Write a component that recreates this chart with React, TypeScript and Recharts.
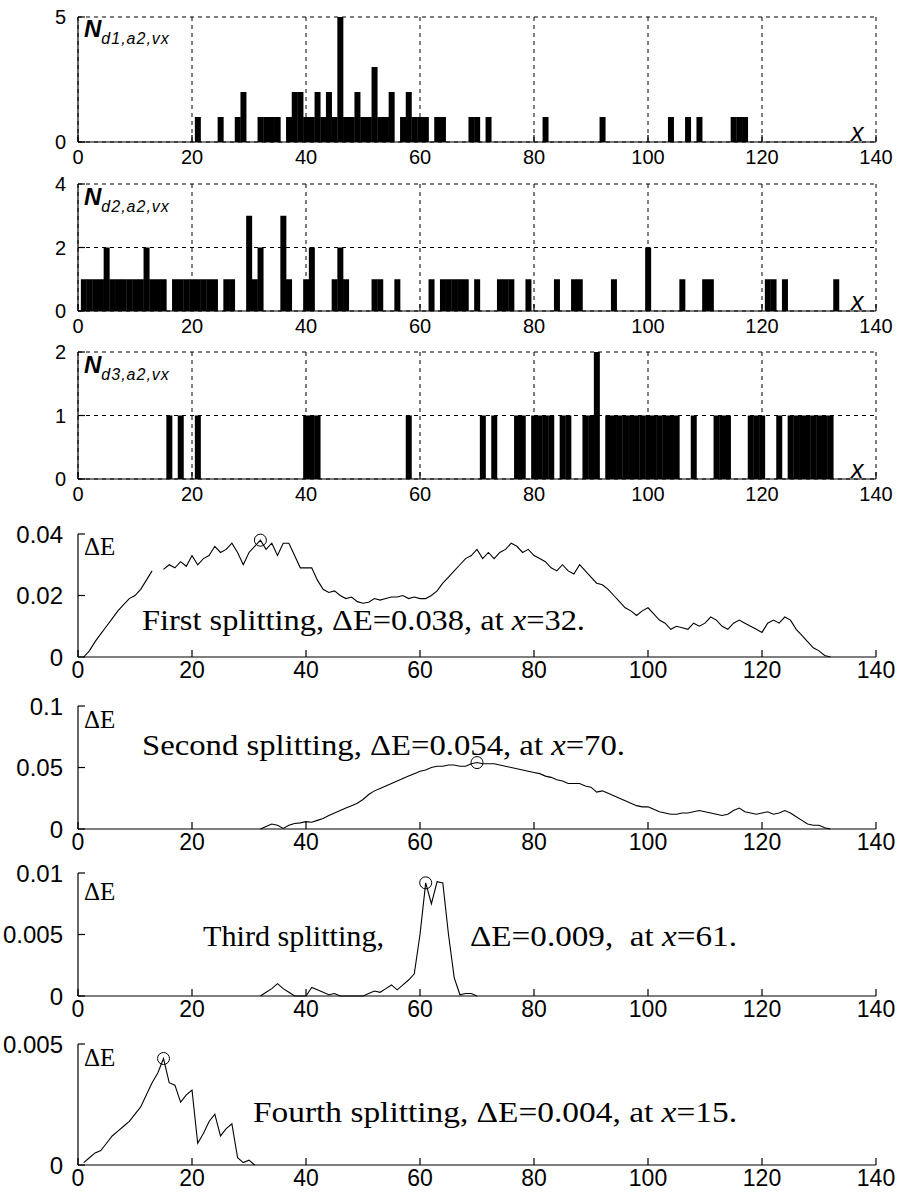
import React from 'react';
import { BarChart, Bar, LineChart, Line, XAxis, YAxis, CartesianGrid, ReferenceDot } from 'recharts';

// shared x ticks
const xTicks = [0, 20, 40, 60, 80, 100, 120, 140];

// N_d1,a2,vx histogram (bin position -> count)
const d1Bins = [21, 25, 28, 29, 32, 33, 34, 35, 37, 38, 39, 40, 41, 42, 43, 44, 45, 46, 47, 48, 49, 50, 51, 52, 53, 54, 55, 57, 58, 59, 60, 61, 63, 64, 69, 70, 72, 82, 92, 104, 107, 109, 115, 116, 117];
const d1Counts = [1, 1, 1, 2, 1, 1, 1, 1, 1, 2, 2, 1, 1, 2, 1, 2, 1, 5, 1, 1, 2, 1, 1, 3, 1, 1, 2, 1, 2, 1, 1, 1, 1, 1, 1, 1, 1, 1, 1, 1, 1, 1, 1, 1, 1];

// N_d2,a2,vx
const d2Bins = [1, 2, 3, 4, 5, 6, 7, 8, 9, 10, 11, 12, 13, 14, 15, 17, 18, 19, 20, 21, 22, 23, 24, 26, 27, 30, 31, 32, 36, 37, 40, 41, 45, 46, 47, 52, 53, 56, 62, 64, 65, 66, 67, 68, 70, 74, 75, 76, 79, 84, 87, 88, 94, 100, 106, 110, 111, 121, 122, 124, 133];
const d2Counts = [1, 1, 1, 1, 2, 1, 1, 1, 1, 1, 1, 2, 1, 1, 1, 1, 1, 1, 1, 1, 1, 1, 1, 1, 1, 3, 1, 2, 3, 1, 1, 2, 1, 2, 1, 1, 1, 1, 1, 1, 1, 1, 1, 1, 1, 1, 1, 1, 1, 1, 1, 1, 1, 2, 1, 1, 1, 1, 1, 1, 1];

// N_d3,a2,vx
const d3Bins = [16, 18, 21, 40, 41, 42, 58, 71, 73, 77, 78, 80, 81, 82, 83, 85, 86, 89, 90, 91, 93, 94, 95, 96, 97, 98, 99, 100, 101, 102, 103, 104, 105, 108, 112, 113, 114, 118, 119, 120, 123, 125, 126, 127, 128, 129, 130, 131, 132];
const d3Counts = [1, 1, 1, 1, 1, 1, 1, 1, 1, 1, 1, 1, 1, 1, 1, 1, 1, 1, 1, 2, 1, 1, 1, 1, 1, 1, 1, 1, 1, 1, 1, 1, 1, 1, 1, 1, 1, 1, 1, 1, 1, 1, 1, 1, 1, 1, 1, 1, 1];

// Delta E curves, one value per integer x starting at the given x
const split1Start = 1;
const split1 = [0, 0.002, 0.005, 0.0075, 0.01, 0.0125, 0.015, 0.017, 0.019, 0.02, 0.022, 0.025, 0.028, null,
  0.0285, 0.03, 0.029, 0.031, 0.0295, 0.033, 0.03, 0.032, 0.033, 0.036, 0.034, 0.035, 0.037, 0.034, 0.03, 0.034,
  0.036, 0.038, 0.035, 0.037, 0.033, 0.037, 0.037, 0.033, 0.029, 0.029, 0.029, 0.025, 0.022, 0.021, 0.0215, 0.02,
  0.019, 0.0195, 0.018, 0.0175, 0.0178, 0.019, 0.0185, 0.019, 0.0195, 0.0195, 0.02, 0.019, 0.0195, 0.019, 0.019,
  0.02, 0.0215, 0.024, 0.026, 0.028, 0.03, 0.032, 0.033, 0.035, 0.032, 0.034, 0.032, 0.034, 0.035, 0.037, 0.036,
  0.034, 0.035, 0.033, 0.032, 0.031, 0.029, 0.028, 0.03, 0.028, 0.027, 0.03, 0.028, 0.026, 0.024, 0.0235, 0.022,
  0.02, 0.018, 0.016, 0.015, 0.0135, 0.015, 0.016, 0.014, 0.012, 0.011, 0.009, 0.01, 0.0095, 0.009, 0.011, 0.01,
  0.011, 0.013, 0.012, 0.01, 0.009, 0.011, 0.012, 0.011, 0.01, 0.009, 0.008, 0.011, 0.012, 0.011, 0.013, 0.012,
  0.009, 0.007, 0.005, 0.003, 0.002, 0.0005, 0];
const split2Start = 32;
const split2 = [0, 0.002, 0.004, 0.003, 0.0005, 0.003, 0.0045, 0.005, 0.006, 0.0055, 0.007, 0.0085, 0.011, 0.013,
  0.015, 0.017, 0.019, 0.021, 0.024, 0.028, 0.031, 0.033, 0.035, 0.037, 0.039, 0.041, 0.043, 0.045, 0.047, 0.048,
  0.05, 0.051, 0.051, 0.052, 0.052, 0.051, 0.051, 0.053, 0.054, 0.053, 0.053, 0.053, 0.052, 0.051, 0.05, 0.049,
  0.048, 0.047, 0.046, 0.045, 0.043, 0.042, 0.04, 0.039, 0.037, 0.037, 0.037, 0.035, 0.034, 0.03, 0.031, 0.029,
  0.027, 0.025, 0.023, 0.021, 0.019, 0.018, 0.018, 0.016, 0.014, 0.013, 0.012, 0.012, 0.013, 0.013, 0.014, 0.015,
  0.014, 0.013, 0.012, 0.011, 0.012, 0.015, 0.017, 0.014, 0.013, 0.012, 0.013, 0.014, 0.012, 0.013, 0.015, 0.013,
  0.01, 0.007, 0.004, 0.003, 0.003, 0.001, 0];
const split3Start = 32;
const split3 = [0, 0.0003, 0.0006, 0.001, 0.0006, 0.0003, 0, 0, 0, 0.0007, 0.0005, 0.0003, 0.0001, 0.0002, 0, 0, 0,
  0, 0, 0.0002, 0.0004, 0.0003, 0.0006, 0.0009, 0.0005, 0.0009, 0.0013, 0.0018, 0.005, 0.0092, 0.0075, 0.0093,
  0.0092, 0.005, 0.0015, 0.0001, 0.0002, 0.0002, 0];
const split4Start = 1;
const split4 = [0.0001, 0.0003, 0.0005, 0.0006, 0.0009, 0.0012, 0.0014, 0.0016, 0.0018, 0.0021, 0.0024, 0.0029,
  0.0034, 0.0038, 0.0044, 0.0034, 0.0033, 0.0026, 0.0029, 0.0031, 0.0009, 0.0013, 0.0018, 0.0021, 0.0012, 0.0015,
  0.0017, 0.0003, 0.0001, 0.0002, 0];

// peaks marked with circles
const peak1 = { x: 32, y: 0.038 };
const peak2 = { x: 70, y: 0.054 };
const peak3 = { x: 61, y: 0.0092 };
const peak4 = { x: 15, y: 0.0044 };

const W = 900;
const LEFT = 78;
const RIGHT = 24;
const MT = 12;
const XH = 30;

const histData = (bins: number[], counts: number[]) => {
  const out: { x: number; n: number }[] = [];
  for (let i = 0; i <= 140; i++) out.push({ x: i, n: 0 });
  bins.forEach((b, i) => { out[b].n = counts[i]; });
  return out;
};

const lineData = (start: number, ys: (number | null)[]) => ys.map((y, i) => ({ x: start + i, y }));

const XTick = (props: any) => {
  const { x, y, payload, fs, dy } = props;
  return (
    <g>
      <line x1={x} y1={y} x2={x} y2={y - 7} stroke="#000" strokeWidth={1.2} />
      <text x={x} y={y + dy} textAnchor="middle" fontSize={fs} fontFamily="Liberation Sans, Arial" fill="#000">
        {payload.value}
      </text>
    </g>
  );
};

const YTick = (props: any) => {
  const { y, payload, fs, right } = props;
  return (
    <g>
      <line x1={LEFT} y1={y} x2={LEFT + 7} y2={y} stroke="#000" strokeWidth={1.2} />
      <text x={right} y={y + fs * 0.36} textAnchor="end" fontSize={fs} fontFamily="Liberation Sans, Arial" fill="#000">
        {payload.value}
      </text>
    </g>
  );
};

const Hist = ({ top, bottom, bins, counts, ymax, yTicks }: any) => {
  const h = bottom - top + MT + XH;
  return (
    <div style={{ position: 'absolute', left: 0, top: top - MT }}>
      <BarChart width={W} height={h} data={histData(bins, counts)} margin={{ top: MT, right: RIGHT, bottom: 0, left: 0 }} barCategoryGap={0} barGap={0}>
        <CartesianGrid stroke="#000" strokeDasharray="4 4" strokeWidth={1} />
        <XAxis dataKey="x" type="number" domain={[0, 140]} ticks={xTicks} height={XH} tickSize={0} tickMargin={0}
          tickLine={false} axisLine={{ stroke: '#000', strokeWidth: 1.2 }} tick={<XTick fs={20} dy={22} />} interval={0} />
        <YAxis type="number" domain={[0, ymax]} ticks={yTicks} width={LEFT} tickSize={0} tickMargin={0}
          tickLine={false} axisLine={{ stroke: '#000', strokeWidth: 1.2 }} tick={<YTick fs={20} right={66} />} interval={0} />
        <Bar dataKey="n" fill="#000" isAnimationActive={false} />
      </BarChart>
    </div>
  );
};

const Curve = ({ top, bottom, data, ymax, yTicks, peak }: any) => {
  const h = bottom - top + MT + XH;
  return (
    <div style={{ position: 'absolute', left: 0, top: top - MT }}>
      <LineChart width={W} height={h} data={data} margin={{ top: MT, right: RIGHT, bottom: 0, left: 0 }}>
        <XAxis dataKey="x" type="number" domain={[0, 140]} ticks={xTicks} height={XH} tickSize={0} tickMargin={0}
          tickLine={false} axisLine={{ stroke: '#000', strokeWidth: 1.2 }} tick={<XTick fs={23} dy={21} />} interval={0} />
        <YAxis type="number" domain={[0, ymax]} ticks={yTicks} width={LEFT} tickSize={0} tickMargin={0}
          tickLine={false} axisLine={{ stroke: '#000', strokeWidth: 1.2 }} tick={<YTick fs={24} right={63} />} interval={0} />
        <Line dataKey="y" stroke="#000" strokeWidth={1.1} dot={false} connectNulls={false} isAnimationActive={false} />
        <ReferenceDot x={peak.x} y={peak.y} r={6} fill="none" stroke="#000" strokeWidth={1} />
      </LineChart>
    </div>
  );
};

const serif = 'Liberation Serif, Times New Roman, serif';
const sans = 'Liberation Sans, Arial, sans-serif';

const NLabel = ({ y, sub }: { y: number; sub: string }) => (
  <text x={84} y={y} fontFamily={sans} fontStyle="italic" fontWeight="bold" fontSize={24} fill="#000">
    N<tspan fontSize={16} fontWeight="normal" dy={7} letterSpacing={1}>{sub}</tspan>
  </text>
);

const XLabel = ({ y }: { y: number }) => (
  <text x={851} y={y} fontFamily={sans} fontStyle="italic" fontSize={25} fill="#000">x</text>
);

const DE = ({ y }: { y: number }) => (
  <text x={84} y={y} fontFamily={serif} fontSize={25} fill="#000">ΔE</text>
);

const Note = ({ x, y, len, children }: any) => (
  <text x={x} y={y} fontFamily={serif} fontSize={30} fill="#000" textLength={len} lengthAdjust="spacingAndGlyphs"
    style={{ whiteSpace: 'pre' }}>
    {children}
  </text>
);

export default function App() {
  return (
    <div style={{ position: 'absolute', left: 0, top: 0, width: 900, height: 1198, background: '#fff', overflow: 'hidden' }}>
      <Hist top={17} bottom={142} bins={d1Bins} counts={d1Counts} ymax={5} yTicks={[0, 5]} />
      <Hist top={184} bottom={311} bins={d2Bins} counts={d2Counts} ymax={4} yTicks={[0, 2, 4]} />
      <Hist top={352} bottom={479} bins={d3Bins} counts={d3Counts} ymax={2} yTicks={[0, 1, 2]} />
      <Curve top={534} bottom={657} data={lineData(split1Start, split1)} ymax={0.04} yTicks={[0, 0.02, 0.04]} peak={peak1} />
      <Curve top={706} bottom={829} data={lineData(split2Start, split2)} ymax={0.1} yTicks={[0, 0.05, 0.1]} peak={peak2} />
      <Curve top={873} bottom={996} data={lineData(split3Start, split3)} ymax={0.01} yTicks={[0, 0.005, 0.01]} peak={peak3} />
      <Curve top={1044} bottom={1165} data={lineData(split4Start, split4)} ymax={0.005} yTicks={[0, 0.005]} peak={peak4} />
      <svg width={900} height={1198} style={{ position: 'absolute', left: 0, top: 0, pointerEvents: 'none' }}>
        <NLabel y={37} sub="d1,a2,vx" />
        <NLabel y={205} sub="d2,a2,vx" />
        <NLabel y={373} sub="d3,a2,vx" />
        <XLabel y={141} />
        <XLabel y={310} />
        <XLabel y={478} />
        <DE y={555} />
        <DE y={728} />
        <DE y={900} />
        <DE y={1066} />
        <Note x={142} y={630} len={443}>
          First splitting, ΔE=0.038, at <tspan fontStyle="italic">x</tspan>=32.
        </Note>
        <Note x={142} y={755} len={483}>
          Second splitting, ΔE=0.054, at <tspan fontStyle="italic">x</tspan>=70.
        </Note>
        <Note x={203} y={946} len={181}>Third splitting,</Note>
        <Note x={470} y={946} len={267}>
          ΔE=0.009,  at <tspan fontStyle="italic">x</tspan>=61.
        </Note>
        <Note x={253} y={1122} len={484}>
          Fourth splitting, ΔE=0.004, at <tspan fontStyle="italic">x</tspan>=15.
        </Note>
      </svg>
    </div>
  );
}
